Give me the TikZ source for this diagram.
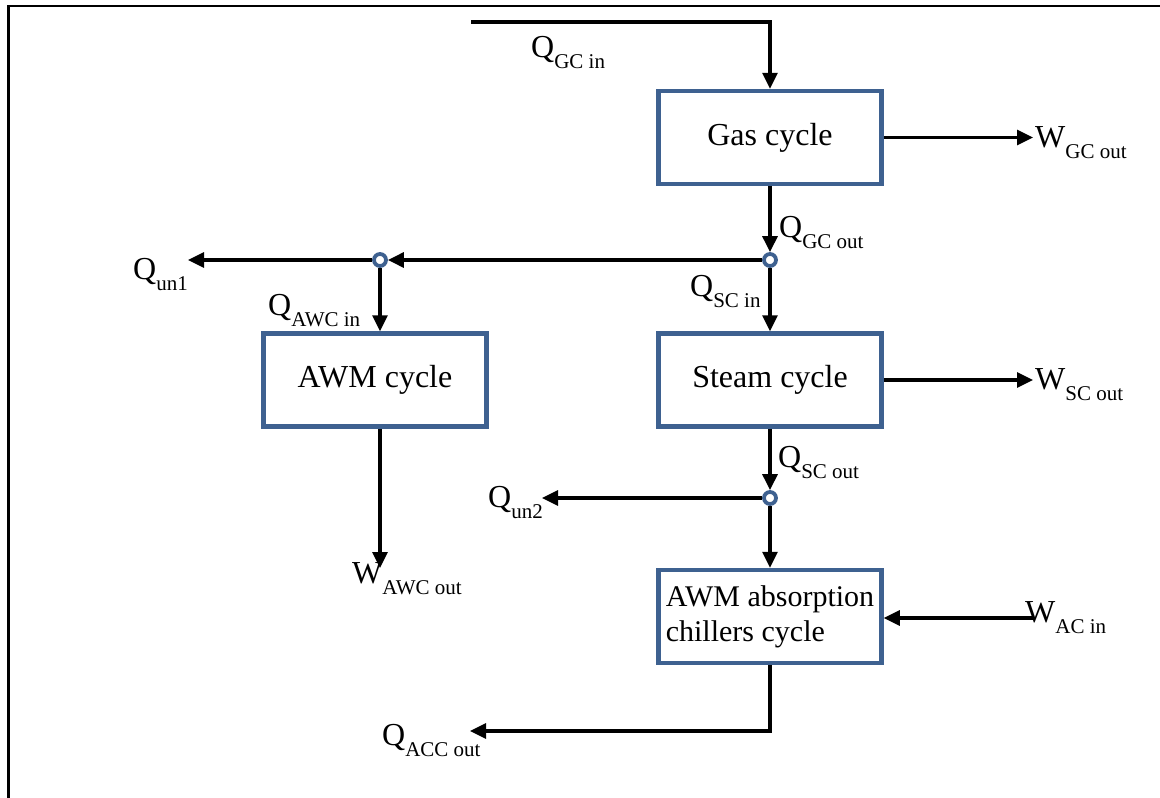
\documentclass[tikz,border=0pt]{standalone}
\usepackage{fontspec}
\setmainfont{Liberation Serif}
\usetikzlibrary{arrows.meta}
\definecolor{boxblue}{HTML}{3E6190}
\newcommand{\lab}[2]{#1\raisebox{-11pt}{\fontsize{21}{21}\selectfont #2}}
\begin{document}
\begin{tikzpicture}[x=1pt,y=-1pt,
  box/.style={draw=boxblue, line width=4.5pt, minimum width=223pt, minimum height=93pt, inner sep=4pt, fill=white, font=\fontsize{32}{35}\selectfont},
  flow/.style={line width=3.2pt, -{Triangle[length=16pt,width=15pt]}},
  junc/.style={circle, draw=boxblue, line width=3.8pt, fill=white, minimum size=12pt, inner sep=0pt},
  lbl/.style={font=\fontsize{32}{35}\selectfont, inner sep=0pt, anchor=base west}]
\useasboundingbox (0,0) rectangle (1160,798);
% frame
\draw[line width=2.6pt] (8.5,798) -- (8.5,6) -- (1160,6);
% boxes
\node[box] (gas) at (770,137.5) {Gas cycle};
\node[box] (steam) at (770,380) {Steam cycle};
\node[box] (awm) at (375,380) {AWM cycle};
\node[box, align=left, inner sep=2pt, font=\fontsize{30}{35}\selectfont] (abs) at (770,616.5) {AWM absorption\\chillers cycle};
% junctions
\node[junc] (j1) at (770,260) {};
\node[junc] (j2) at (380,260) {};
\node[junc] (j3) at (770,498) {};
% free ends
\coordinate (qin) at (471,22);
\coordinate (wgc) at (1033,137.5);
\coordinate (qun1) at (188,260);
\coordinate (wsc) at (1033,380);
\coordinate (qun2) at (542,498);
\coordinate (wawc) at (380,568);
\coordinate (wac) at (1033,618);
\coordinate (qacc) at (470,731);
% connectors
\draw[flow] (qin) -- (gas.north |- qin) -- (gas.north);
\draw[flow] (gas.east) -- (wgc);
\draw[flow] (gas.south) -- (j1);
\draw[flow] (j1) -- (j2);
\draw[flow] (j2) -- (qun1);
\draw[flow] (j2) -- (j2 |- awm.north);
\draw[flow] (j1) -- (steam.north);
\draw[flow] (steam.east) -- (wsc);
\draw[flow] (steam.south) -- (j3);
\draw[flow] (j3) -- (qun2);
\draw[flow] (j3) -- (abs.north);
\draw[flow] (j2 |- awm.south) -- (wawc);
\draw[flow] (wac) -- (abs.east |- wac);
\draw[flow] (abs.south) -- (abs.south |- qacc) -- (qacc);
% labels
\node[lbl] (l1) at (531,57) {\lab{Q}{GC in}};
\node[lbl] (l2) at (1035,147) {\lab{W}{GC out}};
\node[lbl] (l3) at (779,237) {\lab{Q}{GC out}};
\node[lbl] (l4) at (133,279) {\lab{Q}{un1}};
\node[lbl] (l5) at (268,315) {\lab{Q}{AWC in}};
\node[lbl] (l6) at (690,296) {\lab{Q}{SC in}};
\node[lbl] (l7) at (1035,389) {\lab{W}{SC out}};
\node[lbl] (l8) at (778,467) {\lab{Q}{SC out}};
\node[lbl] (l9) at (488,507) {\lab{Q}{un2}};
\node[lbl] (l10) at (352,583) {\lab{W}{AWC out}};
\node[lbl] (l11) at (382,745) {\lab{Q}{ACC out}};
\node[lbl] (l12) at (1025,622) {\lab{W}{AC in}};
\end{tikzpicture}
\end{document}
